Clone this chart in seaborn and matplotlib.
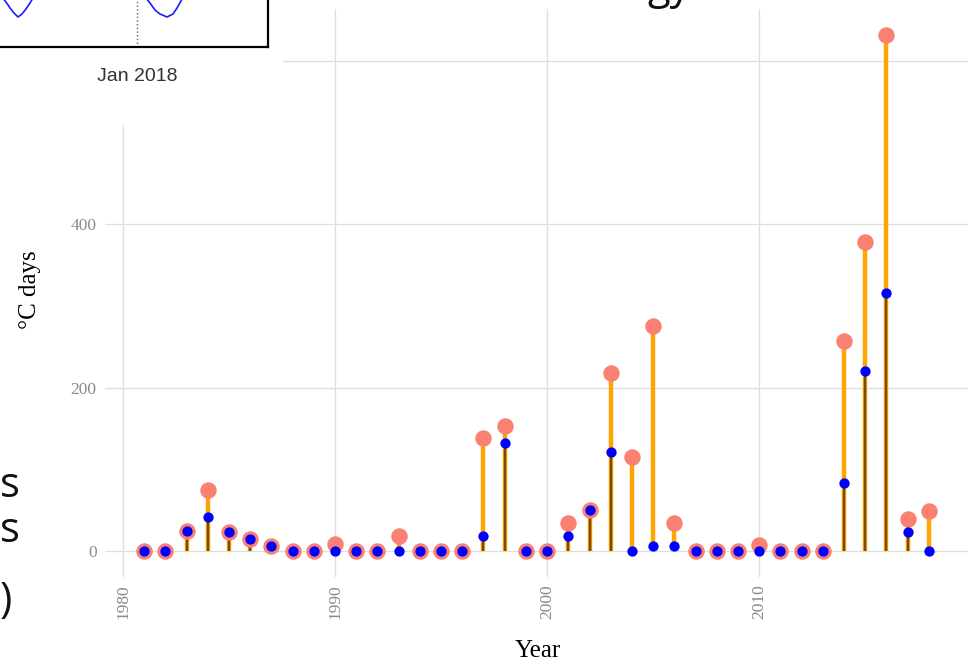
import numpy as np
import pandas as pd
import seaborn as sns
import matplotlib.pyplot as plt
from matplotlib.patches import Rectangle

# data
years = list(range(1981, 2019))
total_degdays = [0, 0, 25, 75, 23, 15, 6, 0, 0, 9,
                 0, 0, 19, 0, 0, 0, 139, 153, 0, 0,
                 35, 51, 218, 115, 276, 35, 0, 0, 0, 7,
                 0, 0, 0, 257, 378, 632, 39, 49]
part_degdays = [0, 0, 25, 42, 23, 15, 6, 0, 0, 0,
                0, 0, 0, 0, 0, 0, 18, 133, 0, 0,
                19, 51, 121, 0, 6, 6, 0, 0, 0, 0,
                0, 0, 0, 83, 220, 316, 23, 0]
x_ticks = [1980, 1990, 2000, 2010]
y_ticks = [0, 200, 400, 600]

# fragment of the seasonal curve in the inset (screen units)
season_x_a = [2, 6, 10, 14, 18, 22, 26, 30, 33]
season_y_a = [50, 45, 39, 34, 30, 33, 38, 44, 49]
season_x_b = [146, 150, 155, 160, 167, 173, 177, 181, 183]
season_y_b = [49, 44, 37, 33, 30, 33, 39, 46, 50]
jan_2018_x = 137

df = pd.DataFrame({'year': years, 'total': total_degdays, 'part': part_degdays})

sns.set_theme(style="whitegrid")
plt.rcParams['font.family'] = ['Liberation Serif', 'DejaVu Serif']

fig = plt.figure(figsize=(9.73, 6.63), dpi=100)
fig.patch.set_facecolor('white')
ax = fig.add_axes([105 / 973, 86 / 663, 863 / 973, 568 / 663])
ax.set_facecolor('white')

# stems
ax.vlines(df['year'], 0, df['total'], color='#FFA500', linewidth=3.2, zorder=2)
ax.vlines(df['year'], 0, df['part'], color='#7a4c00', linewidth=1.7, zorder=3)

# lollipop heads
sns.scatterplot(data=df, x='year', y='total', color='#FA8072', s=140,
                linewidth=0, ax=ax, zorder=4)
sns.scatterplot(data=df, x='year', y='part', color='#0000FF', s=55,
                linewidth=0, ax=ax, zorder=5)

xr = max(years) - min(years)
yr = max(total_degdays) - min(total_degdays)
ax.set_xlim(min(years) - 0.05 * xr, max(years) + 0.05 * xr)
ax.set_ylim(min(total_degdays) - 0.05 * yr, max(total_degdays) + 0.05 * yr)
ax.set_xticks(x_ticks)
ax.set_yticks(y_ticks)
ax.tick_params(axis='x', labelrotation=90, labelsize=12.5, labelcolor='#8a8a8a', length=0, pad=5)
ax.tick_params(axis='y', labelsize=12.5, labelcolor='#8a8a8a', length=0, pad=6)
ax.grid(True, color='#dedede', linewidth=0.9)
for s in ax.spines.values():
    s.set_visible(False)

ax.set_xlabel('Year', fontsize=18, color='black')
ax.set_ylabel('\u00b0C days', fontsize=18, color='black')
ax.xaxis.set_label_coords(0.502, -0.130)
ax.xaxis.label.set_va('center')
ax.yaxis.set_label_coords(-0.087, 0.505)
ax.yaxis.label.set_va('center')

# white area from the slide that covers the chart corner
fig.add_artist(Rectangle((0, 1 - 125 / 663), 283 / 973, 125 / 663,
                         transform=fig.transFigure, facecolor='white',
                         edgecolor='none', zorder=5))

# inset fragment
ax_in = fig.add_axes([-2 / 973, 1 - 47 / 663, 270 / 973, 60 / 663])
ax_in.set_zorder(10)
ax_in.set_facecolor('white')
ax_in.plot(season_x_a, season_y_a, color='#1a1aff', linewidth=1.2)
ax_in.plot(season_x_b, season_y_b, color='#1a1aff', linewidth=1.2)
ax_in.axvline(jan_2018_x, color='#666666', linestyle=':', linewidth=1)
ax_in.set_xlim(-2, 268)
ax_in.set_ylim(0, 60)
ax_in.grid(False)
ax_in.set_yticks([])
ax_in.set_xticks([jan_2018_x])
ax_in.set_xticklabels(['Jan 2018'], fontfamily='Liberation Sans', fontsize=14, color='#333333')
ax_in.tick_params(axis='x', direction='in', length=12, width=1, color='#555555', pad=15)
for s in ax_in.spines.values():
    s.set_color('black')
    s.set_linewidth(1.6)

# slide text fragments at the left edge
slide_font = ['Open Sans', 'DejaVu Sans']
fig.text(0, 1 - 497 / 663, 's', fontsize=30, family=slide_font,
         ha='left', va='baseline', color='#111111')
fig.text(0, 1 - 542 / 663, 's', fontsize=30, family=slide_font,
         ha='left', va='baseline', color='#111111')
fig.text(0, 1 - 612 / 663, ')', fontsize=30, family=slide_font,
         ha='left', va='baseline', color='#111111')
fig.text(691 / 973, 1 + 1 / 663, 'gy', fontsize=30, family=slide_font,
         ha='right', va='baseline', color='#111111')

fig.savefig('out.png', dpi=100)
